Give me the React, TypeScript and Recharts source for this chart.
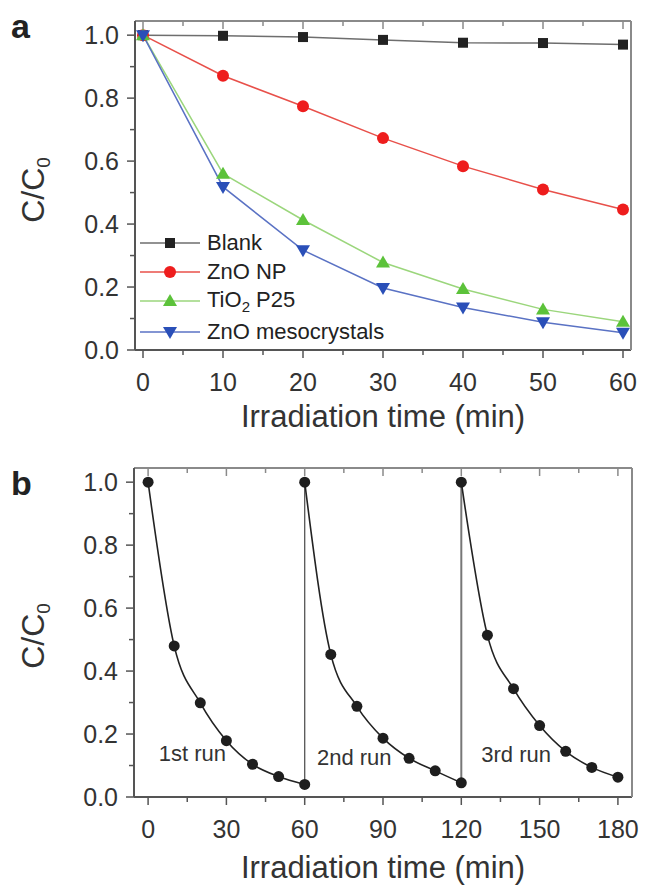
import React from "react";
import { LineChart, Line, XAxis, YAxis, ReferenceDot } from "recharts";

// panel a: photodegradation curves
const timeA = [0, 10, 20, 30, 40, 50, 60];
const blank = [1.0, 0.998, 0.994, 0.985, 0.976, 0.975, 0.97];
const znoNp = [1.0, 0.871, 0.774, 0.673, 0.584, 0.51, 0.446];
const tio2P25 = [1.0, 0.56, 0.413, 0.278, 0.194, 0.129, 0.09];
const znoMeso = [1.0, 0.518, 0.317, 0.197, 0.135, 0.088, 0.055];

// panel b: three recycling runs
const run1Time = [0, 10, 20, 30, 40, 50, 60];
const run1 = [1.0, 0.48, 0.299, 0.179, 0.104, 0.065, 0.04];
const run2Time = [60, 70, 80, 90, 100, 110, 120];
const run2 = [1.0, 0.453, 0.288, 0.187, 0.123, 0.083, 0.045];
const run3Time = [120, 130, 140, 150, 160, 170, 180];
const run3 = [1.0, 0.514, 0.344, 0.227, 0.145, 0.094, 0.063];

const ticksA = [0, 10, 20, 30, 40, 50, 60];
const minorA = [5, 15, 25, 35, 45, 55];
const ticksB = [0, 30, 60, 90, 120, 150, 180];
const minorB = [15, 45, 75, 105, 135, 165];
const ticksY = [0, 0.2, 0.4, 0.6, 0.8, 1.0];
const minorY = [0.1, 0.3, 0.5, 0.7, 0.9];

const FONT = '"Liberation Sans", Arial, Helvetica, sans-serif';
const AXIS = "#555";
const FRAME = "#8a8a8a";
const TXT = "#333";

const tableA = timeA.map((t, i) => ({ t, blank: blank[i], np: znoNp[i], tio2: tio2P25[i], meso: znoMeso[i] }));
const toRows = (ts: number[], vs: number[]) => ts.map((t, i) => ({ t, v: vs[i] }));
const jump1 = [{ t: 60, v: run1[run1.length - 1] }, { t: 60, v: run2[0] }];
const jump2 = [{ t: 120, v: run2[run2.length - 1] }, { t: 120, v: run3[0] }];

const SERIES = [
  { key: "blank", name: "Blank", line: "#6e6e6e", fill: "#222", shape: "square" },
  { key: "np", name: "ZnO NP", line: "#e8504a", fill: "#ee1d1d", shape: "circle" },
  { key: "tio2", name: "TiO2 P25", line: "#9bd67c", fill: "#5cc23a", shape: "up" },
  { key: "meso", name: "ZnO mesocrystals", line: "#5a72c4", fill: "#2a4fb8", shape: "down" },
];

function marker(shape: string, x: number, y: number, fill: string, key?: any) {
  if (shape === "square") return <rect key={key} x={x - 5} y={y - 5} width={10} height={10} fill={fill} />;
  if (shape === "circle") return <circle key={key} cx={x} cy={y} r={6} fill={fill} />;
  if (shape === "up") return <polygon key={key} points={`${x},${y - 7} ${x - 7},${y + 5} ${x + 7},${y + 5}`} fill={fill} />;
  return <polygon key={key} points={`${x},${y + 7} ${x - 7},${y - 5} ${x + 7},${y - 5}`} fill={fill} />;
}

const makeDot = (shape: string, fill: string) => (p: any) => marker(shape, p.cx, p.cy, fill, p.key ?? p.index);

const blackDot = (p: any) => <circle key={p.key ?? p.index} cx={p.cx} cy={p.cy} r={5.5} fill="#1e1e1e" />;

const bottomTick = (major: number[]) => (p: any) => {
  const isMajor = major.includes(p.payload.value);
  return (
    <g>
      <line x1={p.x} x2={p.x} y1={p.y} y2={p.y + (isMajor ? 8 : 5)} stroke={AXIS} strokeWidth={1.5} />
      {isMajor && (
        <text x={p.x} y={p.y + 41} textAnchor="middle" fontSize={25} fill={TXT} fontFamily={FONT}>
          {p.payload.value}
        </text>
      )}
    </g>
  );
};

const topTick = (major: number[]) => (p: any) => {
  const isMajor = major.includes(p.payload.value);
  return <line x1={p.x} x2={p.x} y1={p.y} y2={p.y + (isMajor ? 8 : 5)} stroke={FRAME} strokeWidth={1.5} />;
};

const leftTick = (p: any) => {
  const isMajor = ticksY.some((v) => Math.abs(v - p.payload.value) < 1e-6);
  return (
    <g>
      <line x1={p.x - (isMajor ? 8 : 5)} x2={p.x} y1={p.y} y2={p.y} stroke={AXIS} strokeWidth={1.5} />
      {isMajor && (
        <text x={p.x - 16} y={p.y + 9} textAnchor="end" fontSize={25} fill={TXT} fontFamily={FONT}>
          {p.payload.value.toFixed(1)}
        </text>
      )}
    </g>
  );
};

function Axes({ domain, major, minor, id }: { domain: number[]; major: number[]; minor: number[]; id: string }) {
  const all = [...major, ...minor].sort((a, b) => a - b);
  const yAll = [...ticksY, ...minorY].sort((a, b) => a - b);
  return [
    <XAxis key={id + "b"} xAxisId="b" type="number" dataKey="t" domain={domain} ticks={all} interval={0} height={1}
      tickSize={0} tickMargin={0} tickLine={false} tick={bottomTick(major)} axisLine={{ stroke: AXIS, strokeWidth: 2 }} allowDataOverflow />,
    <XAxis key={id + "t"} xAxisId="t" orientation="top" type="number" dataKey="t" domain={domain} ticks={all} interval={0} height={1}
      tickSize={0} tickMargin={0} tickLine={false} tick={topTick(major)} axisLine={{ stroke: FRAME, strokeWidth: 2 }} allowDataOverflow />,
    <YAxis key={id + "l"} yAxisId="l" type="number" domain={[0, 1.045]} ticks={yAll} interval={0} width={1}
      tickSize={0} tickMargin={0} tickLine={false} tick={leftTick} axisLine={{ stroke: AXIS, strokeWidth: 2 }} allowDataOverflow />,
    <YAxis key={id + "r"} yAxisId="r" orientation="right" type="number" domain={[0, 1.045]} width={1}
      tick={false} tickLine={false} axisLine={{ stroke: FRAME, strokeWidth: 2 }} />,
  ];
}

const abs = (s: React.CSSProperties): React.CSSProperties => ({ position: "absolute", fontFamily: FONT, color: TXT, ...s });

function YTitle({ cy }: { cy: number }) {
  return (
    <div style={abs({ left: 33 - 70, top: cy - 20, width: 140, height: 40, lineHeight: "40px", textAlign: "center", fontSize: 32, transform: "rotate(-90deg)" })}>
      C/C<sub style={{ fontSize: 19, verticalAlign: "-6px" }}>0</sub>
    </div>
  );
}

function XTitle({ cy }: { cy: number }) {
  return (
    <div style={abs({ left: 183, top: cy - 20, width: 400, height: 40, lineHeight: "40px", textAlign: "center", fontSize: 31 })}>
      Irradiation time (min)
    </div>
  );
}

function LegendA() {
  const rows = [243, 272, 301, 332];
  return (
    <>
      {SERIES.map((s, i) => (
        <div key={s.key} style={abs({ left: 140, top: rows[i] - 15, height: 30, display: "flex", alignItems: "center" })}>
          <svg width={62} height={30}>
            <line x1={0} x2={60} y1={15} y2={15} stroke={s.line} strokeWidth={1.5} />
            {marker(s.shape, 30, 15, s.fill)}
          </svg>
          <span style={{ fontSize: 22, marginLeft: 5, whiteSpace: "nowrap", color: "#222" }}>
            {s.key === "tio2" ? (<>TiO<sub style={{ fontSize: 15, verticalAlign: "-5px" }}>2</sub> P25</>) : s.name}
          </span>
        </div>
      ))}
    </>
  );
}

const runLabel = (value: string) => ({ value, position: "center" as const, fontSize: 22, fill: TXT, fontFamily: FONT });

export default function App() {
  return (
    <div style={{ position: "absolute", left: 0, top: 0, width: 645, height: 888, background: "#fff", overflow: "hidden" }}>
      <div style={abs({ left: 0, top: 0 })}>
        <LineChart width={645} height={440} data={tableA} margin={{ top: 20, right: 13, bottom: 89, left: 134 }}>
          {Axes({ domain: [-1, 61], major: ticksA, minor: minorA, id: "a" })}
          {SERIES.map((s) => (
            <Line key={s.key} xAxisId="b" yAxisId="l" type="linear" dataKey={s.key} stroke={s.line} strokeWidth={1.5}
              dot={makeDot(s.shape, s.fill)} activeDot={false} isAnimationActive={false} />
          ))}
        </LineChart>
      </div>
      <div style={abs({ left: 0, top: 440 })}>
        <LineChart width={645} height={448} margin={{ top: 27, right: 12, bottom: 90, left: 133 }}>
          {Axes({ domain: [-5.4, 185.4], major: ticksB, minor: minorB, id: "b" })}
          <Line data={jump1} xAxisId="b" yAxisId="l" type="linear" dataKey="v" stroke="#555" strokeWidth={1.3} dot={false} activeDot={false} isAnimationActive={false} />
          <Line data={jump2} xAxisId="b" yAxisId="l" type="linear" dataKey="v" stroke="#777" strokeWidth={2} dot={false} activeDot={false} isAnimationActive={false} />
          {[toRows(run1Time, run1), toRows(run2Time, run2), toRows(run3Time, run3)].map((rows, i) => (
            <Line key={i} data={rows} xAxisId="b" yAxisId="l" type="monotone" dataKey="v" stroke="#222" strokeWidth={1.6}
              dot={blackDot} activeDot={false} isAnimationActive={false} />
          ))}
          <ReferenceDot xAxisId="b" yAxisId="l" x={17} y={0.14} r={0} fill="none" stroke="none" label={runLabel("1st run")} />
          <ReferenceDot xAxisId="b" yAxisId="l" x={79} y={0.127} r={0} fill="none" stroke="none" label={runLabel("2nd run")} />
          <ReferenceDot xAxisId="b" yAxisId="l" x={141} y={0.137} r={0} fill="none" stroke="none" label={runLabel("3rd run")} />
        </LineChart>
      </div>
      <LegendA />
      <YTitle cy={190} />
      <YTitle cy={636} />
      <XTitle cy={417} />
      <XTitle cy={868} />
      <div style={abs({ left: 11, top: 36 - 30, fontSize: 34, fontWeight: "bold", color: "#222", lineHeight: "40px" })}>a</div>
      <div style={abs({ left: 11, top: 493 - 30, fontSize: 34, fontWeight: "bold", color: "#222", lineHeight: "40px" })}>b</div>
    </div>
  );
}
